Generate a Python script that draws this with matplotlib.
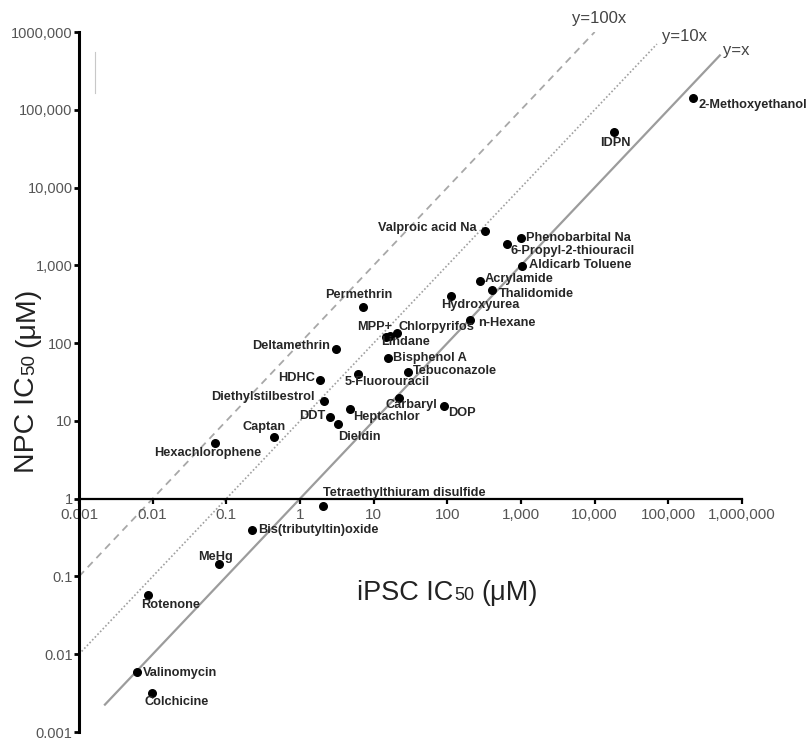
import matplotlib
matplotlib.use('Agg')
import matplotlib.pyplot as plt
from matplotlib.lines import Line2D
from matplotlib.transforms import IdentityTransform

plt.rcParams['font.family'] = ['Liberation Sans', 'DejaVu Sans']

# IC50 values (uM)
chemicals = ['2-Methoxyethanol', 'IDPN', 'Valproic acid Na', 'Phenobarbital Na',
             '6-Propyl-2-thiouracil', 'Aldicarb Toluene', 'Acrylamide', 'Thalidomide',
             'Hydroxyurea', 'n-Hexane', 'MPP+', 'Lindane', 'Chlorpyrifos',
             'Permethrin', 'Deltamethrin', 'Bisphenol A', 'Tebuconazole', 'HDHC',
             '5-Fluorouracil', 'Diethylstilbestrol', 'DDT', 'Dieldin', 'Heptachlor',
             'Carbaryl', 'DOP', 'Captan', 'Hexachlorophene',
             'Tetraethylthiuram disulfide', 'Bis(tributyltin)oxide', 'MeHg',
             'Rotenone', 'Valinomycin', 'Colchicine']
ipsc_ic50 = [216000, 18300, 324, 1000, 645, 1030, 277, 404, 112, 203, 14.7, 16.7, 20.7,
             7.16, 3.08, 15.6, 29.2, 1.87, 6.12, 2.12, 2.55, 3.28, 4.78, 22.1, 90.2,
             0.444, 0.070, 2.05, 0.223, 0.0794, 0.00865, 0.00613, 0.0098]
npc_ic50 = [142000, 51800, 2760, 2245, 1880, 980, 629, 482, 404, 198, 120, 123, 135,
            291, 84, 64, 42.5, 33.6, 40.1, 18.0, 11.2, 9.12, 14.2, 19.7, 15.6,
            6.21, 5.20, 0.805, 0.395, 0.145, 0.0578, 0.00592, 0.00318]

ticks = [1e-3, 1e-2, 1e-1, 1, 10, 100, 1e3, 1e4, 1e5, 1e6]
x_tick_labels = ['0.001', '0.01', '0.1', '1', '10', '100', '1,000', '10,000',
                 '100,000', '1,000,000']
y_tick_labels = ['0.001', '0.01', '0.1', '1', '10', '100', '1,000', '10,000',
                 '100,000', '1000,000']

# reference lines y = k*x
ref_names = ['y=x', 'y=10x', 'y=100x']
ref_slopes = [1, 10, 100]
ref_x_start = [0.00225, 0.001, 0.001]
ref_x_end = [5e5, 7e4, 1e4]

# label placement: (dx px, dy px, ha)
label_place = {
    '2-Methoxyethanol': (6, -7, 'left'), 'IDPN': (1, -11, 'center'),
    'Valproic acid Na': (-8, 3, 'right'), 'Phenobarbital Na': (5, 0, 'left'),
    '6-Propyl-2-thiouracil': (4, -7, 'left'), 'Aldicarb Toluene': (7, 1, 'left'),
    'Acrylamide': (5, 2, 'left'), 'Thalidomide': (7, -4, 'left'),
    'Hydroxyurea': (-10, -9, 'left'), 'n-Hexane': (8, -3, 'left'),
    'MPP+': (6, 10, 'right'), 'Lindane': (-9, -6, 'left'),
    'Chlorpyrifos': (2, 6, 'left'), 'Permethrin': (-4, 12, 'center'),
    'Deltamethrin': (-6, 3, 'right'), 'Bisphenol A': (5, 0, 'left'),
    'Tebuconazole': (5, 1, 'left'), 'HDHC': (-5, 2, 'right'),
    '5-Fluorouracil': (-13, -8, 'left'), 'Diethylstilbestrol': (-9, 4, 'right'),
    'DDT': (-5, 1, 'right'), 'Dieldin': (0, -13, 'left'),
    'Heptachlor': (3, -8, 'left'), 'Carbaryl': (-14, -7, 'left'),
    'DOP': (4, -7, 'left'), 'Captan': (-10, 10, 'center'),
    'Hexachlorophene': (-7, -10, 'center'),
    'Tetraethylthiuram disulfide': (0, 13, 'left'),
    'Bis(tributyltin)oxide': (6, 0, 'left'), 'MeHg': (-3, 7, 'center'),
    'Rotenone': (-7, -10, 'left'), 'Valinomycin': (6, -1, 'left'),
    'Colchicine': (-8, -9, 'left'),
}

fig = plt.figure(figsize=(8.11, 7.40), dpi=100)
ax = fig.add_axes([79 / 811, 8 / 740, 663 / 811, 700 / 740])
ax.set_xscale('log')
ax.set_yscale('log')
ax.set_xlim(1e-3, 1e6)
ax.set_ylim(1e-3, 1e6)

styles = [dict(color='#9c9c9c', lw=1.6, ls='-'),
          dict(color='#a0a0a0', lw=1.2, ls=(0, (1, 1.3))),
          dict(color='#a8a8a8', lw=1.3, ls=(0, (4, 3)))]
label_off = [(3, 5), (5, 8), (-23, 14)]
for name, k, x0, x1, st, off in zip(ref_names, ref_slopes, ref_x_start, ref_x_end,
                                    styles, label_off):
    ax.plot([x0, x1], [k * x0, k * x1], **st, zorder=1)
    ax.annotate(name, (x1, k * x1), xytext=off, textcoords='offset pixels',
                ha='left', va='center', fontsize=12, color='#444444',
                annotation_clip=False)

ax.scatter(ipsc_ic50, npc_ic50, s=30, color='black', zorder=3, clip_on=False)
for name, xv, yv in zip(chemicals, ipsc_ic50, npc_ic50):
    dx, dy, ha = label_place[name]
    ax.annotate(name, (xv, yv), xytext=(dx, dy), textcoords='offset pixels',
                ha=ha, va='center', fontsize=9.2, fontweight='bold', color='#262626')

for side in ['top', 'right']:
    ax.spines[side].set_visible(False)
ax.spines['bottom'].set_position(('data', 1))
ax.spines['bottom'].set_linewidth(1.6)
ax.spines['left'].set_linewidth(2.2)

ax.set_xticks(ticks)
ax.set_xticklabels(x_tick_labels)
ax.set_yticks(ticks)
ax.set_yticklabels(y_tick_labels)
ax.minorticks_off()
ax.tick_params(axis='x', direction='out', length=3.6, width=1.6, pad=3,
               labelsize=11, labelcolor='#555555')
ax.tick_params(axis='y', direction='out', length=3.6, width=2.0, pad=1,
               labelsize=10.5, labelcolor='#555555')


def mixed_text(x, y, parts, rotation=0):
    # pieces of text of different sizes sharing one baseline, in pixels
    r = fig.canvas.get_renderer()
    pos = 0
    for s, size, gap in parts:
        pos += gap
        tx, ty = (x + pos, y) if rotation == 0 else (x, y + pos)
        t = fig.text(tx, ty, s, fontsize=size, rotation=rotation,
                     rotation_mode='anchor', ha='left', va='baseline',
                     transform=IdentityTransform(), color='#222222')
        bb = t.get_window_extent(r)
        pos += bb.width if rotation == 0 else bb.height


mixed_text(357, 740 - 600, [('iPSC IC', 19.5, 0), ('50', 13, 1), ('(μM)', 19.5, 7)])
mixed_text(34, 740 - 473, [('NPC IC', 20.5, 0), ('50', 13.5, 1), ('(μM)', 20.5, 7)],
           rotation=90)

# faint stray mark in the original near the top of the y axis
fig.add_artist(Line2D([95, 95], [740 - 52, 740 - 93], transform=IdentityTransform(),
                      color='#c8c8c8', lw=0.8))

fig.savefig('out.png', dpi=100)
